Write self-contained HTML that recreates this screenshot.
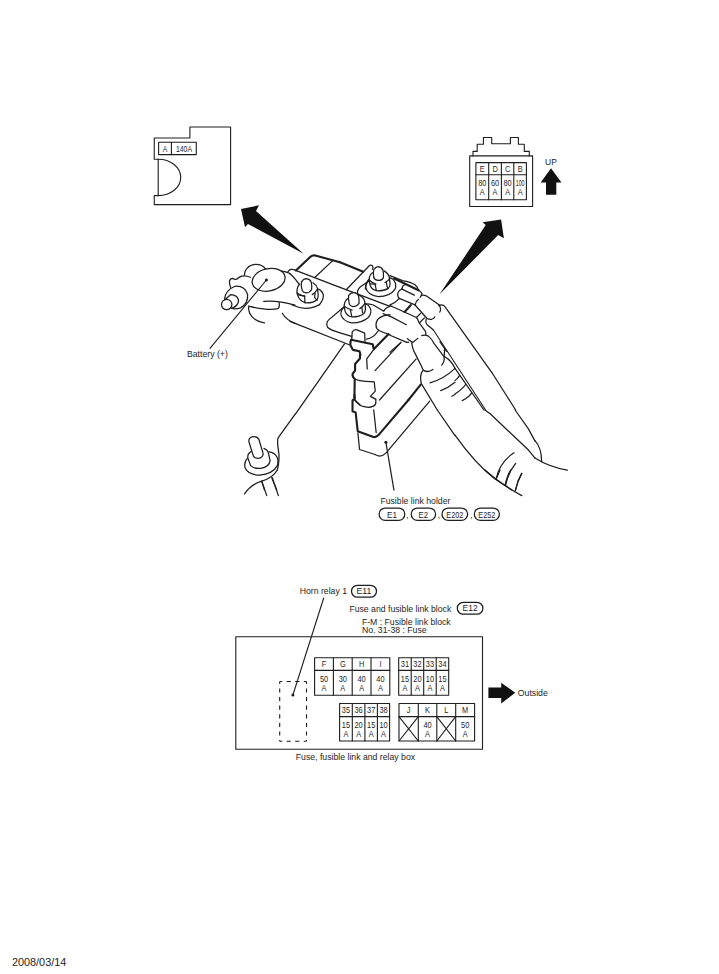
<!DOCTYPE html>
<html><head><meta charset="utf-8">
<style>
html,body{margin:0;padding:0;background:#fff;width:719px;height:974px;overflow:hidden}
svg{display:block}
text{font-family:"Liberation Sans",sans-serif;fill:#1e1e1e}
.s{fill:none;stroke:#1e1e1e;stroke-width:1.1;stroke-linejoin:round;stroke-linecap:round}
.t{fill:none;stroke:#1e1e1e;stroke-width:1.25;stroke-linejoin:round;stroke-linecap:round;vector-effect:non-scaling-stroke}
.p{fill:none;stroke:#1e1e1e;stroke-width:1.25}
.k{fill:none;stroke:#1e1e1e;stroke-width:2.1;stroke-linejoin:round;stroke-linecap:round;vector-effect:non-scaling-stroke}
</style></head><body>
<svg width="719" height="974" viewBox="0 0 719 974">
<!-- top-left label box -->
<path class="s" d="M154.25,138 H189.9 V127 H230.6 V204.6 H154.25 V195.6 H158.2 V159.2 H154.25 V138"/>
<path class="s" d="M158.2,159.2 A22.5 18.2 0 0 1 158.2,195.6"/>
<rect class="s" x="158.6" y="142.2" width="37.7" height="12.4"/>
<path class="s" d="M171.4,142.2 V154.6"/>
<text x="165" y="152.2" font-size="8.6" text-anchor="middle" textLength="4.6" lengthAdjust="spacingAndGlyphs">A</text>
<text x="176" y="152.2" font-size="8.6" textLength="16" lengthAdjust="spacingAndGlyphs">140A</text>

<!-- top-right connector -->
<path class="s" d="M469.7,155.9 H532.6 V206.5 H469.7 Z"/>
<path class="s" d="M473,155.9 V151.4 H477.2 V144.2 H483.4 V137.5 H491.7 V143.7 H510.4 V137.5 H518.4 V144.2 H524.3 V151.4 H529.3 V155.9"/>
<rect class="s" x="475.9" y="162.6" width="50.5" height="37.2"/>
<path class="s" d="M475.9,174.7 H526.4 M488.7,162.6 V199.8 M501.4,162.6 V199.8 M513.8,162.6 V199.8"/>
<text x="545" y="164.8" font-size="9.1" textLength="11.8" lengthAdjust="spacingAndGlyphs">UP</text>
<path fill="#111" d="M551,168.2 L561.5,182.4 H556.3 V194.8 H546 V182.4 H540.7 Z"/>

<!-- arrows -->
<path fill="#111" d="M241.0,209.1 L259.0,205.3 L256.0,211.0 L303.6,253.8 L247.9,224.0 L245.0,227.3 Z"/>
<path fill="#111" d="M439.4,294.5 L485.7,225.0 L482.6,222.3 L501.1,219.4 L503.9,238.2 L498.2,235.0 Z"/>

<!-- labels -->
<text x="186.9" y="356.7" font-size="9.2" textLength="41" lengthAdjust="spacingAndGlyphs">Battery (+)</text>
<text x="380.4" y="504.2" font-size="8.7">Fusible link holder</text>
<text x="299.7" y="593.7" font-size="8.7">Horn relay 1</text>
<text x="349.4" y="612.1" font-size="8.7">Fuse and fusible link block</text>
<text x="361.9" y="624.8" font-size="8.7">F-M : Fusible link block</text>
<text x="361.9" y="633" font-size="8.7">No. 31-38 : Fuse</text>
<text x="295.8" y="760.4" font-size="8.7">Fuse, fusible link and relay box</text>
<text x="517.8" y="695.7" font-size="8.7">Outside</text>
<text x="11.9" y="965.7" font-size="10.88">2008/03/14</text>

<!-- bottom box -->
<rect class="s" x="235.8" y="636.7" width="246.7" height="112.5"/>
<path class="s" style="stroke-linecap:butt" stroke-dasharray="4.2 4.4" stroke-dashoffset="1.7" d="M279.7,681.5 V741.3 M306.5,681.5 V741.3 M279.7,681.5 H306.5 M279.7,741.3 H306.5"/>
<path class="s" d="M323.7,598 L292.9,695"/>
<circle cx="292.9" cy="695" r="1.5" fill="#1e1e1e"/>
<path fill="#111" d="M488.4,687.4 H501.2 V682.7 L515.2,692.7 L501.2,703.6 V698 H488.4 Z"/>
<!--DRAW-->
<g transform="translate(215,250) scale(0.111266)">
<ellipse class="t" cx="482" cy="268" rx="150" ry="100" transform="rotate(-12 482 268)"/>
<circle cx="462" cy="270" r="14" fill="#1e1e1e"/>
<path class="t" d="M265,225 C262,180 300,135 360,130 C405,128 440,150 455,172"/>
<path class="t" d="M318,245 Q270,225 240,235 Q215,245 195,262 Q175,266 160,256 Q140,255 130,275 Q128,305 140,335"/>
<path class="t" d="M86,440 Q95,360 180,326 Q270,320 293,400 Q300,480 230,520 Q190,535 150,525"/>
<circle class="t" cx="105" cy="490" r="47"/>
<path class="t" d="M140,402 Q205,405 212,455 Q210,500 152,525 M88,447 L140,402"/>
<path class="t" d="M438,462 C520,455 620,468 719,495"/>
<path class="t" d="M300,505 C400,528 500,540 555,530 Q578,522 578,500 L577,473"/>
<path class="t" d="M302,510 C298,570 340,640 445,655"/>
<path class="t" d="M605,568 C630,610 670,640 719,660"/>
<path class="t" d="M600,190 Q660,200 674,214"/>
<path class="t" d="M653,200 Q665,178 674,176"/>
</g>
<g transform="translate(290,255) scale(0.069541)">
<path class="k" d="M85,222 L290,28 Q315,5 350,3 L719,105"/>
<path class="t" d="M360,320 L610,85"/>
<path class="t" d="M0,210 Q40,200 90,225 L719,465"/>
<path class="t" d="M0,270 Q60,320 130,420"/>
<path class="t" d="M140,420 Q100,450 100,530 L110,580 Q140,670 240,690 Q340,690 390,640 Q410,610 405,560 L395,480 Q380,430 330,400"/>
<path class="t" style="fill:#fff" d="M175,510 Q155,440 165,390 Q190,340 235,340 Q290,345 305,390 Q320,450 310,500 Q280,545 235,545 Q190,540 175,510 Z"/>
<path class="t" d="M100,545 Q150,580 215,590 M320,570 Q370,540 395,490"/>
<path class="t" d="M120,575 L210,590 L215,690 M360,550 L355,610 Q370,640 395,645"/>
<path class="t" d="M410,490 Q470,520 480,580 Q480,650 420,719"/>
</g>
<g transform="translate(290,305) scale(0.069541)">
<path class="t" d="M30,0 Q120,40 220,48 Q340,45 410,0"/>
<path class="t" d="M0,235 L851,572"/>
<path class="t" d="M779,24 L560,210 Q510,260 540,320 Q580,360 719,400 L887,450"/>
</g>
<g transform="translate(340,255) scale(0.069541)">
<path class="k" d="M0,105 L335,240"/>
<path class="t" d="M90,500 L420,155 Q445,135 470,160 Q480,180 465,205"/>
<path class="t" d="M0,465 L719,739"/>
<path class="t" d="M420,370 L290,460 Q240,510 255,560 L262,580"/>
<path class="t" d="M420,370 Q360,410 365,490"/>
</g>
<g transform="translate(365,260) scale(0.083449)">
<path class="t" d="M50,230 Q10,270 10,330 Q30,420 160,440 Q300,440 360,350 Q385,290 340,235 Q320,215 295,210"/>
<path class="t" d="M95,150 Q55,170 50,230 L60,300 Q80,360 150,370 Q230,370 280,340 Q305,320 300,280 L290,200 Q280,160 230,130"/>
<path class="t" style="fill:#fff" d="M105,210 Q95,150 105,115 Q130,80 160,80 Q200,85 215,120 Q225,160 220,210 Q210,245 160,245 Q115,240 105,210 Z"/>
<path class="t" d="M50,240 Q80,270 130,290 M240,270 Q280,250 295,225"/>
<path class="t" d="M65,285 L120,290 L135,360 M255,265 L265,320 L280,335"/>
</g>
<g transform="translate(325,285) scale(0.069541)">
<path class="t" d="M335,190 Q280,220 275,300 L290,380 Q320,450 390,460 Q500,460 560,410 Q590,370 580,300 L570,230 Q550,170 490,150"/>
<path class="t" style="fill:#fff" d="M350,275 Q330,200 340,150 Q370,105 420,110 Q470,120 480,150 Q495,210 490,260 Q460,310 400,310 Q360,300 350,275 Z"/>
<path class="t" d="M280,310 Q330,340 390,360 M500,340 Q550,310 575,265"/>
<path class="t" d="M365,360 L385,450 M530,320 L540,400"/>
<path class="t" d="M285,310 Q220,360 230,430 Q260,520 380,545 Q520,550 620,470 Q680,400 650,330 Q630,290 580,270"/>
</g>
<g transform="translate(390,275) scale(0.069541)">
<path class="t" d="M0,10 L180,80 Q300,100 360,140 Q400,175 410,220"/>
<path class="k" d="M60,50 L410,220"/>
<path class="t" d="M175,195 Q175,150 215,140"/>
<path class="t" d="M165,200 L350,290"/>
<path class="t" d="M165,205 Q110,230 110,285 Q115,325 140,340"/>
<path class="t" d="M140,340 L360,430"/>
<path class="t" d="M360,430 Q370,380 410,350"/>
<path class="t" d="M410,220 Q450,240 460,270 Q450,300 435,320"/>
<path class="t" d="M455,295 Q480,285 520,300 L719,440"/>
<path class="t" d="M0,430 Q80,400 130,340"/>
</g>
<g transform="translate(340,305) scale(0.069541)">
<path class="t" d="M370,-15 Q410,-18 480,0 L630,90 Q650,40 719,20"/>
<path class="t" d="M620,125 L719,165"/>
<path class="t" d="M719,140 Q600,150 540,210 Q500,280 530,340 Q560,370 600,385 L719,430"/>
<path class="t" d="M550,370 Q480,480 380,490"/>
<path class="t" d="M170,490 L175,390 Q200,350 235,355 L355,405 L360,525"/>
<path class="k" d="M160,500 Q145,530 150,580 L185,645 L280,665 L295,719"/>
<path class="k" d="M160,500 L470,565 L485,635 L695,420"/>
</g>
<g transform="translate(390,305) scale(0.069541)">
<path class="t" d="M0,10 Q20,15 40,25 L380,180"/>
<path class="k" d="M210,100 L300,0"/>
<path class="t" d="M360,0 L530,190 Q560,210 600,205 Q640,190 645,170"/>
<path class="t" d="M380,180 L440,120 M425,255 L495,185"/>
<path class="t" d="M380,180 Q400,200 415,250 L510,380 Q520,400 515,430"/>
<path class="t" d="M520,200 Q505,240 530,280 L624,360"/>
<path class="t" d="M0,160 L235,285"/>
<path class="t" d="M0,435 L225,530 Q250,540 270,535"/>
<path class="t" d="M250,485 L325,540 L400,480"/>
<path class="t" d="M0,680 L160,535"/>
</g>
<g transform="translate(420,290) scale(0.055633)">
<path class="t" d="M340,277 Q380,260 420,275 Q450,295 470,330 L1289,1479"/>
<path class="t" d="M340,280 Q375,310 370,350 Q365,385 355,395"/>
</g>
<g transform="translate(440,305) scale(0.069541)">
<path class="t" d="M0,530 L95,667"/>
</g>
<g transform="translate(345,355) scale(0.069541)">
<path class="k" d="M215,0 L215,50 L145,130 L145,220 L110,270 Q100,310 140,345 L135,635"/>
<path class="t" d="M140,345 Q200,375 300,380 L420,385 L435,520 L365,595 L440,635"/>
<path class="t" d="M135,640 L200,700 L215,719"/>
</g>
<g transform="translate(340,395) scale(0.069541)">
<path class="k" d="M210,0 L210,60 L180,75 L180,235 L225,250 L255,520 L480,605 Q520,610 550,580 L984,72"/>
<path class="t" d="M205,65 Q260,140 330,165 Q420,190 480,160 Q520,140 515,100 L515,60"/>
<path class="t" d="M485,215 L520,540"/>
</g>
<g transform="translate(345,320) scale(0.111266)">
<path class="t" d="M200,440 L195,350 L255,270"/>
<path class="t" d="M270,455 L500,205"/>
<path class="t" d="M310,719 L640,350"/>
<path class="k" d="M570,719 L680,580"/>
</g>
<g transform="translate(295,330) scale(0.111266)">
<path class="t" d="M445,125 L2,759"/>
</g>
<g transform="translate(375,330) scale(0.111266)">
<path class="t" d="M330,115 Q340,180 360,210 L420,330 Q430,360 440,365 Q480,385 520,355"/>
<path class="t" d="M420,50 Q450,40 480,55 Q510,80 530,120 L620,240 Q630,280 600,315"/>
<path class="t" d="M625,170 L622,240 Q660,255 700,310 L719,345"/>
<path class="t" d="M430,365 Q400,400 415,480 L560,719"/>
<path class="t" d="M495,475 Q620,440 719,345"/>
<path class="t" d="M590,545 Q660,520 719,470"/>
<path class="t" d="M690,595 L719,580"/>
</g>
<g transform="translate(455,330) scale(0.111266)">
<path class="t" d="M330,380 L545,719"/>
<path class="t" d="M0,345 L260,719"/>
<path class="t" d="M0,455 Q30,430 40,410"/>
<path class="t" d="M0,575 Q70,530 95,490"/>
<path class="t" d="M65,635 Q130,600 150,565"/>
</g>
<g transform="translate(215,410) scale(0.111266)">
<path class="t" d="M719,40 L570,245 Q555,270 570,360 Q585,440 560,540"/>
<path class="t" d="M295,430 Q258,465 270,520 Q300,585 400,585 Q520,575 560,500 Q580,430 530,392 Q510,378 485,376"/>
<path class="t" style="fill:#fff" d="M330,370 Q290,390 295,430 L320,500 Q350,530 410,525 Q490,510 495,455 L480,385 Q470,355 440,345"/>
<path class="t" style="fill:#fff" d="M345,415 L305,285 Q300,250 340,240 Q380,235 395,265 L432,390 Q435,420 400,432 Q360,440 345,415 Z"/>
<path class="t" d="M420,640 L445,719 M510,610 L555,719"/>
</g>
<g transform="translate(215,470) scale(0.111266)">
<path class="t" d="M560,0 Q520,70 420,100 Q320,130 265,215"/>
<path class="t" d="M420,100 L465,230 M515,70 L570,230"/>
</g>
<g transform="translate(295,410) scale(0.111266)">
<path class="t" d="M565,205 L580,355 L719,400"/>
</g>
<g transform="translate(375,410) scale(0.111266)">
<path class="t" d="M492,-79 L100,385 Q70,415 40,415 Q20,410 0,400"/>
<path class="t" d="M98,290 L170,719"/>
<circle cx="98" cy="290" r="14" fill="#1e1e1e"/>
<path class="t" d="M560,0 L719,230"/>
</g>
<g transform="translate(455,410) scale(0.111266)">
<path class="t" d="M270,0 Q295,20 314,32 L660,360 Q690,395 719,432"/>
<path class="t" d="M540,0 L660,170 L719,280"/>
<path class="t" d="M0,225 Q180,480 360,620 L510,719"/>
<path class="t" d="M370,620 Q400,470 530,385"/>
<path class="t" d="M455,675 Q480,560 545,480"/>
<path class="t" d="M545,719 Q560,640 600,570"/>
</g>
<g transform="translate(535,410) scale(0.111266)">
<path class="t" d="M0,275 Q60,340 60,465"/>
<path class="t" d="M0,432 Q130,515 290,540"/>
</g>
<g transform="translate(455,470) scale(0.111266)">
<path class="t" d="M270,0 Q400,120 600,230"/>
<path class="t" d="M370,80 L405,0 M450,135 Q470,50 500,0 M540,190 Q560,100 600,30"/>
</g>
<path class="s" d="M266.4,280 L210,348.4"/>
<path class="s" d="M433.4,330 L485.6,410"/>
<!--/DRAW-->
<!--GRID-->
<rect class="s" x="314.6" y="657.7" width="75.2" height="37.6"/>
<path class="s" d="M314.6,670.4 H389.8 M333.4,657.7 V695.3 M352.2,657.7 V695.3 M371.0,657.7 V695.3"/>
<text transform="translate(324.00,667.05) scale(0.88,1)" font-size="8.4" text-anchor="middle">F</text>
<text transform="translate(324.00,682.05) scale(0.88,1)" font-size="8.4" text-anchor="middle">50</text>
<text transform="translate(324.00,690.65) scale(0.88,1)" font-size="8.4" text-anchor="middle">A</text>
<text transform="translate(342.80,667.05) scale(0.88,1)" font-size="8.4" text-anchor="middle">G</text>
<text transform="translate(342.80,682.05) scale(0.88,1)" font-size="8.4" text-anchor="middle">30</text>
<text transform="translate(342.80,690.65) scale(0.88,1)" font-size="8.4" text-anchor="middle">A</text>
<text transform="translate(361.60,667.05) scale(0.88,1)" font-size="8.4" text-anchor="middle">H</text>
<text transform="translate(361.60,682.05) scale(0.88,1)" font-size="8.4" text-anchor="middle">40</text>
<text transform="translate(361.60,690.65) scale(0.88,1)" font-size="8.4" text-anchor="middle">A</text>
<text transform="translate(380.40,667.05) scale(0.88,1)" font-size="8.4" text-anchor="middle">I</text>
<text transform="translate(380.40,682.05) scale(0.88,1)" font-size="8.4" text-anchor="middle">40</text>
<text transform="translate(380.40,690.65) scale(0.88,1)" font-size="8.4" text-anchor="middle">A</text>
<rect class="s" x="398.7" y="657.7" width="50.0" height="37.6"/>
<path class="s" d="M398.7,670.4 H448.7 M411.2,657.7 V695.3 M423.7,657.7 V695.3 M436.2,657.7 V695.3"/>
<text transform="translate(404.95,667.05) scale(0.88,1)" font-size="8.4" text-anchor="middle">31</text>
<text transform="translate(404.95,682.05) scale(0.88,1)" font-size="8.4" text-anchor="middle">15</text>
<text transform="translate(404.95,690.65) scale(0.88,1)" font-size="8.4" text-anchor="middle">A</text>
<text transform="translate(417.45,667.05) scale(0.88,1)" font-size="8.4" text-anchor="middle">32</text>
<text transform="translate(417.45,682.05) scale(0.88,1)" font-size="8.4" text-anchor="middle">20</text>
<text transform="translate(417.45,690.65) scale(0.88,1)" font-size="8.4" text-anchor="middle">A</text>
<text transform="translate(429.95,667.05) scale(0.88,1)" font-size="8.4" text-anchor="middle">33</text>
<text transform="translate(429.95,682.05) scale(0.88,1)" font-size="8.4" text-anchor="middle">10</text>
<text transform="translate(429.95,690.65) scale(0.88,1)" font-size="8.4" text-anchor="middle">A</text>
<text transform="translate(442.45,667.05) scale(0.88,1)" font-size="8.4" text-anchor="middle">34</text>
<text transform="translate(442.45,682.05) scale(0.88,1)" font-size="8.4" text-anchor="middle">15</text>
<text transform="translate(442.45,690.65) scale(0.88,1)" font-size="8.4" text-anchor="middle">A</text>
<rect class="s" x="339.6" y="703.5" width="50.0" height="37.5"/>
<path class="s" d="M339.6,716.6 H389.6 M352.3,703.5 V741.0 M364.9,703.5 V741.0 M377.4,703.5 V741.0"/>
<text transform="translate(345.95,713.05) scale(0.88,1)" font-size="8.4" text-anchor="middle">35</text>
<text transform="translate(345.95,728.00) scale(0.88,1)" font-size="8.4" text-anchor="middle">15</text>
<text transform="translate(345.95,736.60) scale(0.88,1)" font-size="8.4" text-anchor="middle">A</text>
<text transform="translate(358.60,713.05) scale(0.88,1)" font-size="8.4" text-anchor="middle">36</text>
<text transform="translate(358.60,728.00) scale(0.88,1)" font-size="8.4" text-anchor="middle">20</text>
<text transform="translate(358.60,736.60) scale(0.88,1)" font-size="8.4" text-anchor="middle">A</text>
<text transform="translate(371.15,713.05) scale(0.88,1)" font-size="8.4" text-anchor="middle">37</text>
<text transform="translate(371.15,728.00) scale(0.88,1)" font-size="8.4" text-anchor="middle">15</text>
<text transform="translate(371.15,736.60) scale(0.88,1)" font-size="8.4" text-anchor="middle">A</text>
<text transform="translate(383.50,713.05) scale(0.88,1)" font-size="8.4" text-anchor="middle">38</text>
<text transform="translate(383.50,728.00) scale(0.88,1)" font-size="8.4" text-anchor="middle">10</text>
<text transform="translate(383.50,736.60) scale(0.88,1)" font-size="8.4" text-anchor="middle">A</text>
<rect class="s" x="399.0" y="703.5" width="75.6" height="37.5"/>
<path class="s" d="M399.0,716.6 H474.6 M418.3,703.5 V741.0 M436.8,703.5 V741.0 M455.7,703.5 V741.0"/>
<text transform="translate(408.65,713.05) scale(0.88,1)" font-size="8.4" text-anchor="middle">J</text>
<path class="s" d="M399.0,716.6 L418.3,741.0 M418.3,716.6 L399.0,741.0"/>
<text transform="translate(427.55,713.05) scale(0.88,1)" font-size="8.4" text-anchor="middle">K</text>
<text transform="translate(427.55,728.00) scale(0.88,1)" font-size="8.4" text-anchor="middle">40</text>
<text transform="translate(427.55,736.60) scale(0.88,1)" font-size="8.4" text-anchor="middle">A</text>
<text transform="translate(446.25,713.05) scale(0.88,1)" font-size="8.4" text-anchor="middle">L</text>
<path class="s" d="M436.8,716.6 L455.7,741.0 M455.7,716.6 L436.8,741.0"/>
<text transform="translate(465.15,713.05) scale(0.88,1)" font-size="8.4" text-anchor="middle">M</text>
<text transform="translate(465.15,728.00) scale(0.88,1)" font-size="8.4" text-anchor="middle">50</text>
<text transform="translate(465.15,736.60) scale(0.88,1)" font-size="8.4" text-anchor="middle">A</text>
<text transform="translate(482.30,171.80) scale(0.88,1)" font-size="8.4" text-anchor="middle">E</text>
<text transform="translate(482.30,186.30) scale(0.88,1)" font-size="8.4" text-anchor="middle">80</text>
<text transform="translate(482.30,195.00) scale(0.88,1)" font-size="8.4" text-anchor="middle">A</text>
<text transform="translate(495.05,171.80) scale(0.88,1)" font-size="8.4" text-anchor="middle">D</text>
<text transform="translate(495.05,186.30) scale(0.88,1)" font-size="8.4" text-anchor="middle">60</text>
<text transform="translate(495.05,195.00) scale(0.88,1)" font-size="8.4" text-anchor="middle">A</text>
<text transform="translate(507.60,171.80) scale(0.88,1)" font-size="8.4" text-anchor="middle">C</text>
<text transform="translate(507.60,186.30) scale(0.88,1)" font-size="8.4" text-anchor="middle">80</text>
<text transform="translate(507.60,195.00) scale(0.88,1)" font-size="8.4" text-anchor="middle">A</text>
<text transform="translate(520.10,171.80) scale(0.88,1)" font-size="8.4" text-anchor="middle">B</text>
<text transform="translate(520.10,186.30) scale(0.62,1)" font-size="8.4" text-anchor="middle">100</text>
<text transform="translate(520.10,195.00) scale(0.88,1)" font-size="8.4" text-anchor="middle">A</text>
<rect class="p" x="379.1" y="508.0" width="25.70" height="12.40" rx="6.20"/>
<text x="391.95" y="517.50" font-size="9.6" text-anchor="middle" textLength="9.9" lengthAdjust="spacingAndGlyphs">E1</text>
<rect class="p" x="411.2" y="508.0" width="24.40" height="12.40" rx="6.20"/>
<text x="423.40" y="517.50" font-size="9.6" text-anchor="middle" textLength="9.6" lengthAdjust="spacingAndGlyphs">E2</text>
<rect class="p" x="442.0" y="508.0" width="25.60" height="12.40" rx="6.20"/>
<text x="454.80" y="517.50" font-size="9.6" text-anchor="middle" textLength="17" lengthAdjust="spacingAndGlyphs">E202</text>
<rect class="p" x="474.3" y="508.0" width="25.10" height="12.40" rx="6.20"/>
<text x="486.85" y="517.50" font-size="9.6" text-anchor="middle" textLength="17" lengthAdjust="spacingAndGlyphs">E252</text>
<text x="407.3" y="518.3" font-size="8.3" text-anchor="middle">,</text>
<text x="438.8" y="518.3" font-size="8.3" text-anchor="middle">,</text>
<text x="471.3" y="518.3" font-size="8.3" text-anchor="middle">,</text>
<rect class="p" x="351.5" y="585.3" width="25.00" height="11.90" rx="5.95"/>
<text x="364.00" y="594.30" font-size="9.6" text-anchor="middle" textLength="15" lengthAdjust="spacingAndGlyphs">E11</text>
<rect class="p" x="457.3" y="602.3" width="25.60" height="11.90" rx="5.95"/>
<text x="470.10" y="611.30" font-size="9.6" text-anchor="middle" textLength="15" lengthAdjust="spacingAndGlyphs">E12</text>
<!--/GRID-->
</svg>
</body></html>
